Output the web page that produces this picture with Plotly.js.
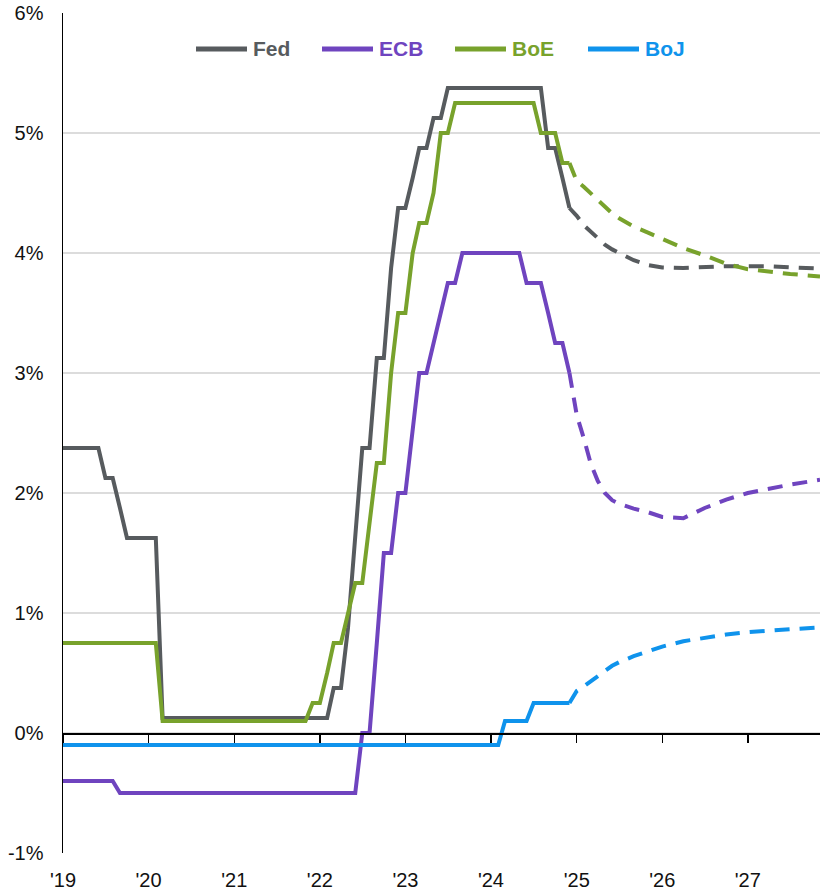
<!DOCTYPE html>
<html>
<head>
<meta charset="utf-8">
<script src="https://cdn.plot.ly/plotly-3.0.1.min.js"></script>
<style>html,body{margin:0;padding:0;background:#fff;}#chart{width:820px;height:894px;}</style>
</head>
<body>
<div id="chart"></div>
<script>
// ---- data ----
const seriesNames = ['Fed', 'ECB', 'BoE', 'BoJ'];
const seriesColors = ['#575b5e', '#6f44bf', '#78a22c', '#0f93ec'];

// monthly (end-of-month policy rate), Jan 2019 .. Dec 2024
const fedActual = [
  2.375,2.375,2.375,2.375,2.375,2.375,2.125,2.125,1.875,1.625,1.625,1.625,
  1.625,1.625,0.125,0.125,0.125,0.125,0.125,0.125,0.125,0.125,0.125,0.125,
  0.125,0.125,0.125,0.125,0.125,0.125,0.125,0.125,0.125,0.125,0.125,0.125,
  0.125,0.125,0.375,0.375,0.875,1.625,2.375,2.375,3.125,3.125,3.875,4.375,
  4.375,4.625,4.875,4.875,5.125,5.125,5.375,5.375,5.375,5.375,5.375,5.375,
  5.375,5.375,5.375,5.375,5.375,5.375,5.375,5.375,4.875,4.875,4.625,4.375
];
const ecbActual = [
  -0.4,-0.4,-0.4,-0.4,-0.4,-0.4,-0.4,-0.4,-0.5,-0.5,-0.5,-0.5,
  -0.5,-0.5,-0.5,-0.5,-0.5,-0.5,-0.5,-0.5,-0.5,-0.5,-0.5,-0.5,
  -0.5,-0.5,-0.5,-0.5,-0.5,-0.5,-0.5,-0.5,-0.5,-0.5,-0.5,-0.5,
  -0.5,-0.5,-0.5,-0.5,-0.5,-0.5,0.0,0.0,0.75,1.5,1.5,2.0,
  2.0,2.5,3.0,3.0,3.25,3.5,3.75,3.75,4.0,4.0,4.0,4.0,
  4.0,4.0,4.0,4.0,4.0,3.75,3.75,3.75,3.5,3.25,3.25,3.0
];
const boeActual = [
  0.75,0.75,0.75,0.75,0.75,0.75,0.75,0.75,0.75,0.75,0.75,0.75,
  0.75,0.75,0.1,0.1,0.1,0.1,0.1,0.1,0.1,0.1,0.1,0.1,
  0.1,0.1,0.1,0.1,0.1,0.1,0.1,0.1,0.1,0.1,0.1,0.25,
  0.25,0.5,0.75,0.75,1.0,1.25,1.25,1.75,2.25,2.25,3.0,3.5,
  3.5,4.0,4.25,4.25,4.5,5.0,5.0,5.25,5.25,5.25,5.25,5.25,
  5.25,5.25,5.25,5.25,5.25,5.25,5.25,5.0,5.0,5.0,4.75,4.75
];
const bojActual = [
  -0.1,-0.1,-0.1,-0.1,-0.1,-0.1,-0.1,-0.1,-0.1,-0.1,-0.1,-0.1,
  -0.1,-0.1,-0.1,-0.1,-0.1,-0.1,-0.1,-0.1,-0.1,-0.1,-0.1,-0.1,
  -0.1,-0.1,-0.1,-0.1,-0.1,-0.1,-0.1,-0.1,-0.1,-0.1,-0.1,-0.1,
  -0.1,-0.1,-0.1,-0.1,-0.1,-0.1,-0.1,-0.1,-0.1,-0.1,-0.1,-0.1,
  -0.1,-0.1,-0.1,-0.1,-0.1,-0.1,-0.1,-0.1,-0.1,-0.1,-0.1,-0.1,
  -0.1,-0.1,0.1,0.1,0.1,0.1,0.25,0.25,0.25,0.25,0.25,0.25
];

// market-implied path (dashed)
const forecastDates = ['2024-12-01','2025-01-01','2025-02-01','2025-03-01','2025-04-01','2025-05-01',
  '2025-06-01','2025-07-01','2025-09-01','2025-11-01','2026-01-01','2026-04-01','2026-07-01',
  '2026-10-01','2027-01-01','2027-04-01','2027-07-01','2027-11-05'];
const fedForecast = [4.375,4.31,4.23,4.18,4.12,4.07,4.03,4.0,3.94,3.9,3.88,3.875,3.885,3.89,3.89,3.89,3.88,3.87];
const ecbForecast = [3.0,2.65,2.45,2.25,2.1,2.0,1.94,1.91,1.87,1.84,1.80,1.79,1.875,1.945,2.0,2.035,2.07,2.11];
const boeForecast = [4.75,4.6,4.55,4.5,4.44,4.39,4.33,4.29,4.22,4.17,4.12,4.04,3.98,3.91,3.865,3.845,3.825,3.805];
const bojForecast = [0.25,0.35,0.39,0.43,0.47,0.52,0.56,0.59,0.64,0.68,0.72,0.765,0.795,0.82,0.84,0.855,0.865,0.88];

const yearTickVals = ['2019-01-01','2020-01-01','2021-01-01','2022-01-01','2023-01-01','2024-01-01','2025-01-01','2026-01-01','2027-01-01'];
const yearTickText = ["'19","'20","'21","'22","'23","'24","'25","'26","'27"];
const yTickVals = [-1,0,1,2,3,4,5,6];
const yTickText = ['-1%','0%','1%','2%','3%','4%','5%','6%'];

// ---- build ----
const monthDates = [];
for (let i = 0; i < fedActual.length; i++) {
  const y = 2019 + Math.floor(i / 12), m = (i % 12) + 1;
  monthDates.push(y + '-' + (m < 10 ? '0' + m : m) + '-01');
}
const actuals = [fedActual, ecbActual, boeActual, bojActual];
const forecasts = [fedForecast, ecbForecast, boeForecast, bojForecast];
const xRange = ['2019-01-01', '2027-11-05'];

const traces = [];
seriesNames.forEach((name, i) => {
  traces.push({
    type: 'scatter', mode: 'lines', x: monthDates, y: actuals[i], name: name,
    line: {color: seriesColors[i], width: 4}, hoverinfo: 'skip', showlegend: false
  });
});
seriesNames.forEach((name, i) => {
  traces.push({
    type: 'scatter', mode: 'lines', x: forecastDates, y: forecasts[i], name: name + ' (implied)',
    showlegend: false,
    line: {color: seriesColors[i], width: 4, dash: '15px,10px'}, hoverinfo: 'skip'
  });
});
// carrier for the zero-line tick axis
traces.push({type: 'scatter', mode: 'lines', x: [monthDates[0]], y: [null], xaxis: 'x2', yaxis: 'y', showlegend: false, hoverinfo: 'skip'});

// custom legend (paper coords) with long line samples
const plotL = 63, plotW = 757, plotB = 853, plotH = 840;
const legendLineStart = [196, 322, 455, 588];
const legendY = (plotB - 49) / plotH;
const shapes = [], annotations = [];
seriesNames.forEach((name, i) => {
  const x0 = (legendLineStart[i] - plotL) / plotW;
  const x1 = (legendLineStart[i] + 51 - plotL) / plotW;
  shapes.push({type: 'line', xref: 'paper', yref: 'paper', x0: x0, x1: x1, y0: legendY, y1: legendY,
    line: {color: seriesColors[i], width: 5}});
  annotations.push({xref: 'paper', yref: 'paper', x: (legendLineStart[i] + 55 - plotL) / plotW, y: legendY,
    xanchor: 'left', yanchor: 'middle', showarrow: false,
    text: '<b>' + name + '</b>', font: {size: 21, color: seriesColors[i], family: 'Arial, "Liberation Sans", sans-serif'}});
});

const layout = {
  width: 820, height: 894,
  margin: {l: 63, r: 0, t: 13, b: 41},
  paper_bgcolor: '#ffffff', plot_bgcolor: '#ffffff',
  font: {family: 'Arial, "Liberation Sans", sans-serif', size: 20, color: '#111111'},
  showlegend: false,
  shapes: shapes, annotations: annotations,
  xaxis: {
    type: 'date', range: xRange, tickmode: 'array', tickvals: yearTickVals, ticktext: yearTickText,
    showgrid: false, zeroline: false, showline: false, ticks: '',
    tickfont: {size: 20, color: '#111111'}, ticklabelstandoff: 13, fixedrange: true
  },
  xaxis2: {
    type: 'date', range: xRange, overlaying: 'x', anchor: 'free', position: 1 / 7, side: 'bottom',
    tickmode: 'array', tickvals: yearTickVals, showticklabels: false,
    ticks: 'outside', ticklen: 8, tickwidth: 1.5, tickcolor: '#000000',
    showline: true, linecolor: '#000000', linewidth: 1.5, showgrid: false, zeroline: false
  },
  yaxis: {
    range: [-1, 6], tickmode: 'array', tickvals: yTickVals, ticktext: yTickText,
    showgrid: true, gridcolor: '#dcdcdc', gridwidth: 1.2, zeroline: false,
    showline: true, linecolor: '#000000', linewidth: 1.5, ticks: '',
    tickfont: {size: 20, color: '#111111'}, ticklabelstandoff: 14
  }
};

Plotly.newPlot('chart', traces, layout, {displayModeBar: false, staticPlot: true});
</script>
</body>
</html>
